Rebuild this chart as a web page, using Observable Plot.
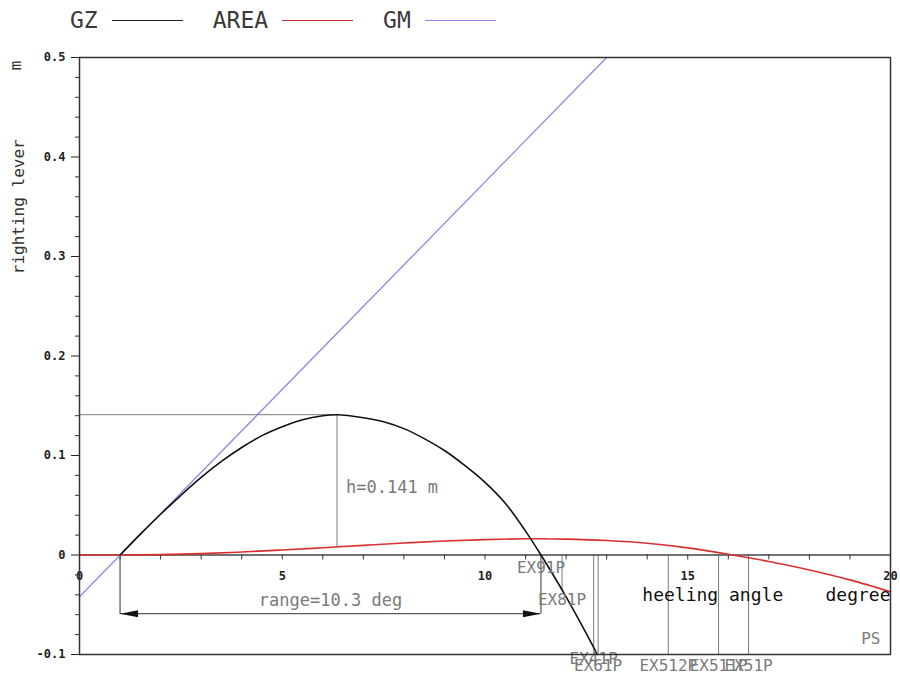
<!DOCTYPE html>
<html>
<head>
<meta charset="utf-8">
<script src="https://cdn.jsdelivr.net/npm/d3@7"></script>
<script src="https://cdn.jsdelivr.net/npm/@observablehq/plot@0.6"></script>
<style>
  body { margin: 0; background: #fff; }
  #legend { display: flex; align-items: center; height: 40px; padding-left: 70px;
            font-family: "DejaVu Sans Mono", monospace; font-size: 23px; color: #3a3a3a; }
  #legend .item { display: flex; align-items: center; margin-right: 30px; }
  #legend .swatch { width: 71px; height: 0; margin-left: 14px; border-top: 1.6px solid; }
</style>
</head>
<body>
<div id="legend"></div>
<div id="chart"></div>
<script>
// ---- data ----
const legendNames = ["GZ", "AREA", "GM"];
const legendColors = ["#222222", "#d83030", "#8a8ae6"];

const gzDeg = [1.0, 1.5, 2, 2.5, 3, 3.5, 4, 4.5, 5, 5.5, 6, 6.35, 7, 7.5, 8, 8.5, 9, 9.5, 10, 10.5, 11, 11.38, 12, 12.5, 12.77];
const gzVal = [0, 0.021, 0.041, 0.060, 0.078, 0.094, 0.108, 0.120, 0.129, 0.136, 0.140, 0.141, 0.138, 0.134, 0.127, 0.117, 0.105, 0.090, 0.073, 0.052, 0.024, 0, -0.042, -0.079, -0.100];

const areaDeg = [0, 1, 2, 3, 4, 5, 6, 7, 8, 9, 10, 11, 11.38, 12, 13, 14, 15, 16, 17, 18, 19, 20];
const areaVal = [0, 0, 0.0004, 0.0014, 0.0030, 0.0050, 0.0073, 0.0097, 0.0120, 0.0140, 0.0155, 0.0163, 0.0164, 0.0160, 0.0145, 0.0118, 0.0072, 0.0008, -0.0065, -0.0150, -0.0250, -0.0370];

const gmDeg = [0, 13.0];
const gmVal = [-0.042, 0.5];

const maxDeg = 6.35, maxGZ = 0.141, areaAtMax = 0.008;
const rangeStart = 1.0, rangeEnd = 11.38, rangeY = -0.059;
const hLabel = "h=0.141 m";
const rangeLabel = "range=10.3 deg";

const markerDeg = [11.90, 12.68, 12.79, 14.52, 15.76, 16.50];
const markerBottom = [-0.036, -0.1, -0.1, -0.1, -0.1, -0.1];
const markerLabels = ["EX81P", "EX41P", "EX61P", "EX512P", "EX511P", "EX51P"];
const rangeEndLabel = "EX91P";

const yTicks = [-0.1, 0, 0.1, 0.2, 0.3, 0.4, 0.5];
const yTickLabels = ["-0.1", "0", "0.1", "0.2", "0.3", "0.4", "0.5"];
const yMinor = [-0.08, -0.06, -0.04, -0.02, 0.02, 0.04, 0.06, 0.08, 0.12, 0.14, 0.16, 0.18, 0.22, 0.24, 0.26, 0.28, 0.32, 0.34, 0.36, 0.38, 0.42, 0.44, 0.46, 0.48];
const xTicks = [0, 5, 10, 15, 20];
const xTickLabels = ["0", "5", "10", "15", "20"];
const xMinor = [1, 2, 3, 4, 5, 6, 7, 8, 9, 10, 11, 12, 13, 14, 15, 16, 17, 18, 19];

const yTitle = "righting lever";
const yUnit = "m";
const xTitle = "heeling angle";
const xUnit = "degree";
const sideLabel = "PS";

// ---- legend ----
const lg = document.getElementById("legend");
legendNames.forEach((n, i) => {
  const it = document.createElement("div");
  it.className = "item";
  it.innerHTML = `<span>${n}</span><span class="swatch" style="border-color:${legendColors[i]}"></span>`;
  lg.appendChild(it);
});

// ---- chart ----
const gz = gzDeg.map((d, i) => ({x: d, y: gzVal[i]}));
const area = areaDeg.map((d, i) => ({x: d, y: areaVal[i]}));
const gm = gmDeg.map((d, i) => ({x: d, y: gmVal[i]}));
const markers = markerDeg.map((d, i) => ({x: d, y2: markerBottom[i], label: markerLabels[i]}));

const arrowSymbol = {
  draw(context) {
    context.moveTo(0, 0);
    context.lineTo(-18, -3.5);
    context.lineTo(-18, 3.5);
    context.closePath();
  }
};
const arrows = [{x: rangeStart, y: rangeY, r: 180}, {x: rangeEnd, y: rangeY, r: 0}];

const gray = "#7a7a7a";
const mono = "DejaVu Sans Mono";
const labelOf = (name) => markers.filter(m => m.label === name);

const chart = Plot.plot({
  width: 900,
  height: 635,
  marginTop: 17,
  marginBottom: 21,
  marginLeft: 79,
  marginRight: 10,
  x: {domain: [0, 20], axis: null},
  y: {domain: [-0.1, 0.5]},
  style: {fontFamily: mono, background: "white", color: "#222", overflow: "visible"},
  marks: [
    // annotation lines
    Plot.ruleY([maxGZ], {x1: 0, x2: maxDeg, stroke: gray, strokeWidth: 1}),
    Plot.ruleX([maxDeg], {y1: maxGZ, y2: areaAtMax, stroke: gray, strokeWidth: 1}),
    Plot.ruleX([rangeStart, rangeEnd], {y1: 0, y2: rangeY, stroke: "#333", strokeWidth: 1}),
    Plot.ruleY([rangeY], {x1: rangeStart, x2: rangeEnd, stroke: "#333", strokeWidth: 1}),
    Plot.dot(arrows, {x: "x", y: "y", rotate: "r", symbol: arrowSymbol, fill: "#111", stroke: "none"}),
    Plot.ruleX(markers, {x: "x", y1: 0, y2: "y2", stroke: gray, strokeWidth: 1}),
    // zero line and x ticks
    Plot.ruleY([0], {stroke: "#444", strokeWidth: 1.3}),
    Plot.ruleX(xMinor, {x: d => d, y1: 0, y2: -0.005, stroke: "#333", strokeWidth: 1}),
    Plot.text(xTicks, {x: d => d, y: 0, dy: 21, text: (d, i) => xTickLabels[i], fontSize: 12, fontWeight: "bold", fill: "#222"}),
    // y axis
    Plot.axisY(yMinor, {tickSize: 4, tickFormat: () => "", color: "#333"}),
    Plot.axisY(yTicks, {tickSize: 8, tickPadding: 6, tickFormat: d => yTickLabels[yTicks.indexOf(d)], fontSize: 12, fontWeight: "bold", color: "#222"}),
    Plot.text([yTitle], {x: 0, y: 0.35, dx: -61, rotate: -90, fontSize: 16, fill: "#333", text: d => d}),
    Plot.text([yUnit], {x: 0, y: 0.492, dx: -64, rotate: -90, fontSize: 16, fill: "#333", text: d => d}),
    // curves
    Plot.line(area, {x: "x", y: "y", stroke: legendColors[1], strokeWidth: 1.6, curve: "catmull-rom"}),
    Plot.line(gm, {x: "x", y: "y", stroke: legendColors[2], strokeWidth: 1.3}),
    Plot.line(gz, {x: "x", y: "y", stroke: "#111", strokeWidth: 1.6, curve: "catmull-rom"}),
    // labels
    Plot.text([hLabel], {x: maxDeg, y: maxGZ / 2, dx: 9, dy: 3, textAnchor: "start", fontSize: 17, fill: gray, text: d => d}),
    Plot.text([rangeLabel], {x: (rangeStart + rangeEnd) / 2, y: rangeY, dy: -13, fontSize: 17, fill: gray, text: d => d}),
    Plot.text([rangeEndLabel], {x: rangeEnd, y: 0, dy: 13, fontSize: 16, fill: gray, text: d => d}),
    Plot.text(labelOf("EX81P"), {x: "x", y: "y2", text: "label", dy: 9, fontSize: 16, fill: gray}),
    Plot.text(labelOf("EX41P"), {x: "x", y: "y2", text: "label", dy: 4, fontSize: 16, fill: gray}),
    Plot.text(markers.slice(2), {x: "x", y: "y2", text: "label", dy: 11, fontSize: 16, fill: gray}),
    Plot.text([xTitle], {x: 13.88, y: 0, dy: 40, textAnchor: "start", fontSize: 18, fill: "#111", text: d => d}),
    Plot.text([xUnit], {x: 20, y: 0, dy: 40, textAnchor: "end", fontSize: 18, fill: "#111", text: d => d}),
    Plot.text([sideLabel], {x: 20, y: -0.1, dx: -10, dy: -16, textAnchor: "end", fontSize: 16, fill: gray, text: d => d}),
    Plot.frame({stroke: "#333", strokeWidth: 1.5})
  ]
});
document.getElementById("chart").appendChild(chart);
</script>
</body>
</html>
